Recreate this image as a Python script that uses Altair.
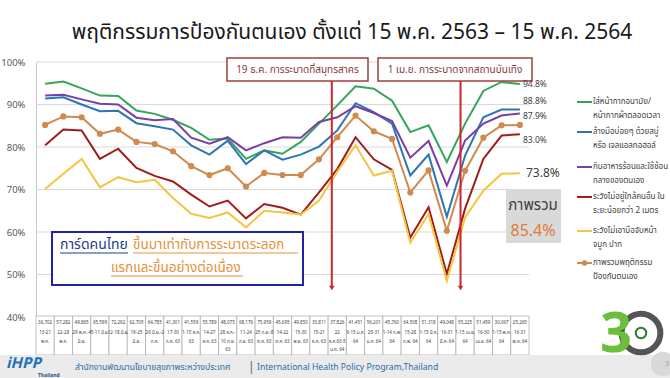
import altair as alt
import pandas as pd

# ---------------- data ----------------
idx = list(range(27))
mask = [94.9, 95.4, 93.8, 92.1, 92.0, 88.6, 87.8, 86.4, 84.5, 81.7, 82.0, 77.2, 79.2, 78.4, 81.2, 85.5, 89.8, 94.3, 93.7, 90.9, 83.5, 85.1, 76.5, 85.5, 93.2, 95.3, 94.8]
wash = [91.4, 91.7, 90.0, 88.4, 88.5, 85.6, 84.9, 84.1, 80.4, 78.2, 81.5, 76.0, 79.2, 77.0, 78.2, 80.1, 83.9, 90.3, 88.2, 85.5, 73.3, 78.2, 63.6, 78.0, 87.0, 88.8, 88.8]
spoon = [92.1, 92.3, 91.2, 90.2, 90.0, 86.9, 86.3, 86.6, 82.2, 80.8, 82.3, 79.2, 80.9, 82.3, 82.2, 85.9, 87.0, 89.6, 88.0, 86.1, 77.5, 81.4, 70.9, 81.5, 85.5, 87.4, 87.9]
distance = [80.4, 84.1, 83.9, 77.2, 79.6, 75.1, 73.2, 71.9, 68.8, 66.0, 67.4, 63.2, 66.6, 65.7, 64.1, 69.3, 74.8, 82.3, 77.1, 74.6, 58.7, 65.8, 50.1, 65.5, 77.2, 82.7, 83.0]
face = [70.1, 73.7, 77.2, 70.5, 72.9, 71.7, 72.3, 68.0, 64.3, 63.3, 64.6, 61.1, 65.0, 64.6, 64.1, 67.4, 74.2, 80.4, 73.3, 74.4, 57.5, 64.2, 48.5, 63.4, 69.7, 73.7, 73.8]
overall = [85.2, 87.2, 87.0, 83.1, 84.1, 81.2, 80.7, 79.0, 75.5, 73.4, 75.0, 70.7, 73.9, 73.4, 73.4, 77.1, 82.3, 87.4, 83.7, 81.9, 69.3, 74.5, 60.3, 74.4, 82.2, 85.1, 85.2]

series_names = ["mask", "wash", "spoon", "distance", "face", "overall"]
series_colors = ["#35a55a", "#2e75b6", "#7a3fa6", "#a01c1c", "#f4c542", "#d08a4e"]
legend_lines1 = ["ใส่หน้ากากอนามัย/", "ล้างมือบ่อยๆ ด้วยสบู่", "กินอาหารร้อนและใช้ช้อน",
                 "ระวังไม่อยู่ใกล้คนอื่น ใน", "ระวังไม่เอามือจับหน้า", "ภาพรวมพฤติกรรม"]
legend_lines2 = ["หน้ากากผ้าตลอดเวลา", "หรือ เจลแอลกอฮอล์", "กลางของตนเอง",
                 "ระยะน้อยกว่า 2 เมตร", "จมูก ปาก", "ป้องกันตนเอง"]
end_labels = ["94.8%", "88.8%", "87.9%", "83.0%", "73.8%"]

samples = ["36,702", "57,282", "49,865", "65,599", "72,292", "62,705", "64,785", "41,301", "41,559",
           "55,789", "48,075", "68,176", "75,959", "45,695", "49,850", "30,811", "37,826", "41,451",
           "56,201", "45,760", "64,508", "51,318", "49,048", "55,225", "51,459", "30,067", "25,265"]
date1 = ["13-21", "22-28", "29 พ.ค.-4", "5-11 มิ.ย.", "12-18 มิ.ย.", "19-25", "26 มิ.ย.-2", "17-30", "1-15 ส.ค.",
         "14-27", "28 ส.ค.-", "11-24", "25 ก.ย.-8", "14-22", "15-30", "15-21", "22", "6-15 ม.ค.",
         "25-31", "1-14 ก.พ.", "15-28", "1-15 มี.ค.", "16-31", "1-15 เม.ย.", "16-30", "1-15 พ.ค.", "16-31"]
date2 = ["พ.ค.", "พ.ค.", "มิ.ย.", "", "", "มิ.ย.", "ก.ค.", "ก.ค. 63", "63",
         "ส.ค. 63", "10 ก.ย.", "ก.ย. 63", "ต.ค. 63", "ต.ค. 63", "พ.ย. 63", "ธ.ค. 63", "ธ.ค.63-5", "64",
         "ม.ค. 64", "64", "ก.พ. 64", "64", "มี.ค. 64", "64", "เม.ย. 64", "64", "พ.ค. 64"]
date3 = ["", "", "", "", "", "", "", "", "", "", "63", "", "", "", "", "", "ม.ค. 64", "",
         "", "", "", "", "", "", "", "", ""]

event_pos = [15.7, 22.75]
event_text = ["19 ธ.ค. การระบาดที่สมุทรสาคร", "1 เม.ย. การระบาดจากสถานบันเทิง"]
y_ticks = [40, 50, 60, 70, 80, 90, 100]

title_text = "พฤติกรรมการป้องกันตนเอง ตั้งแต่ 15 พ.ค. 2563 – 15 พ.ค. 2564"

# ---------------- build tables ----------------
vals = [mask, wash, spoon, distance, face, overall]
rows = []
for name, v in zip(series_names, vals):
    for i, val in zip(idx, v):
        rows.append({"series": name, "idx": i, "value": val})
long_df = pd.DataFrame(rows)
table_df = pd.DataFrame({"idx": idx, "lo": [i - 0.5 for i in idx], "hi": [i + 0.5 for i in idx],
                         "n": samples, "d1": date1, "d2": date2, "d3": date3})
ev_df = pd.DataFrame({"pos": event_pos})

FONT = "Tahoma, 'Noto Sans Thai', 'Noto Sans', 'DejaVu Sans', sans-serif"
ONE = alt.InlineData(values=[{"k": 1}])

xs = alt.Scale(domain=[-0.5, 26.5], nice=False, zero=False)
ys = alt.Scale(domain=[40, 100], nice=False, zero=False)


def txt(text, x, y, size, color, align="left", weight="normal", style="normal"):
    return alt.Chart(ONE).mark_text(text=text, align=align, baseline="middle", fontSize=size,
                                    color=color, fontWeight=weight, fontStyle=style, font=FONT).encode(
        x=alt.value(x), y=alt.value(y))


def box(x1, x2, y1, y2, fill, stroke=None, sw=1.0):
    kw = {"fill": fill}
    if stroke:
        kw.update(stroke=stroke, strokeWidth=sw)
    return alt.Chart(ONE).mark_rect(**kw).encode(
        x=alt.value(x1), x2=alt.value(x2), y=alt.value(y1), y2=alt.value(y2))


def hrule(x1, x2, y, color, sw):
    return alt.Chart(ONE).mark_rule(color=color, strokeWidth=sw).encode(
        x=alt.value(x1), x2=alt.value(x2), y=alt.value(y))


color_scale = alt.Scale(domain=series_names, range=series_colors)

grid = alt.Chart(pd.DataFrame({"v": y_ticks})).mark_rule(color="#d9d9d9", strokeWidth=1).encode(
    y=alt.Y("v:Q", scale=ys, axis=alt.Axis(values=y_ticks, labelExpr="datum.value + '%'", grid=False,
                                           ticks=False, domain=True, domainColor="#c8c8c8",
                                           labelColor="#595959", labelFontSize=9.5, labelPadding=11,
                                           labelFont=FONT, title=None)),
    x=alt.value(0), x2=alt.value(493))

lines = alt.Chart(long_df).mark_line(strokeWidth=2).encode(
    x=alt.X("idx:Q", scale=xs, axis=None),
    y=alt.Y("value:Q", scale=ys),
    color=alt.Color("series:N", scale=color_scale, legend=None),
    order="idx:Q")

dots = alt.Chart(long_df[long_df.series == "overall"]).mark_point(filled=True, size=38, opacity=1,
                                                                  color="#d08a4e").encode(
    x=alt.X("idx:Q", scale=xs), y=alt.Y("value:Q", scale=ys))

ev_rules = alt.Chart(ev_df).mark_rule(color="#c8282b", strokeWidth=2).encode(
    x=alt.X("pos:Q", scale=xs), y=alt.value(19), y2=alt.value(224))
ev_heads = alt.Chart(ev_df).mark_point(shape="triangle-down", filled=True, size=30, opacity=1,
                                       color="#c8282b").encode(
    x=alt.X("pos:Q", scale=xs), y=alt.value(226))

layers = [grid, lines, dots, ev_rules, ev_heads]

# annotation boxes
layers += [box(191, 332, -4, 19, "white", "#a0403f", 1.5), box(342, 496, -4, 19, "white", "#a0403f", 1.5),
           txt(event_text[0], 261.5, 7.5, 10, "#8b3a3a", "center"),
           txt(event_text[1], 419, 7.5, 10, "#8b3a3a", "center")]

# title
layers.append(txt(title_text, 316, -29, 21, "#1a1a1a", "center"))

# end labels
end_pos = [(487, 22, 8.5), (487, 39, 8.5), (487, 54, 8.5), (487, 78, 8.5), (490, 111, 12)]
for lab, (x, y, s) in zip(end_labels, end_pos):
    layers.append(txt(lab, x, y, s, "#404040"))

# overall box
layers += [box(470, 525, 127, 181, "#d9d9d9"),
           txt("ภาพรวม", 497, 143, 15, "#404040", "center"),
           txt("85.4%", 497, 169, 16, "#e07b39", "center")]

# legend
leg_y = [40, 70, 105, 135, 169, 201]
for name, col, l1, l2, y in zip(series_names, series_colors, legend_lines1, legend_lines2, leg_y):
    layers.append(hrule(541, 556, y, col, 2))
    layers.append(txt(l1, 557, y, 8, "#404040"))
    layers.append(txt(l2, 557, y + 14, 8, "#404040"))
layers.append(alt.Chart(ONE).mark_point(filled=True, size=30, opacity=1, color=series_colors[-1]).encode(
    x=alt.value(548.5), y=alt.value(201)))

# blue callout
layers += [box(16, 267, 170, 223, "white", "#2323a0", 2),
           txt("การ์ดคนไทย", 24, 183, 14, "#1f3a93"),
           txt("ขึ้นมาเท่ากับการระบาดระลอก", 97, 183, 13.5, "#e69138"),
           txt("แรกและขึ้นอย่างต่อเนื่อง", 75, 206, 13.5, "#e69138"),
           hrule(24, 92, 191, "#1f3a93", 1), hrule(97, 262, 191, "#e69138", 1),
           hrule(75, 207, 214, "#e69138", 1)]

# table
tbase = alt.Chart(table_df)
layers.append(tbase.mark_rect(fill="white", stroke="#a6a6a6", strokeWidth=0.7).encode(
    x=alt.X("lo:Q", scale=xs), x2="hi:Q", y=alt.value(254), y2=alt.value(293)))
for field, yy in [("n", 261), ("d1", 271), ("d2", 280), ("d3", 288)]:
    layers.append(tbase.mark_text(fontSize=4.5, color="#404040", font=FONT, baseline="middle").encode(
        x=alt.X("idx:Q", scale=xs), y=alt.value(yy), text=f"{field}:N"))

# footer
layers += [box(-36, 634, 293, 316, "#ebebeb"),
           txt("iHPP", -30, 301, 15, "#1f73b7", weight="bold", style="italic"),
           txt("Thailand", 2, 313, 5, "#1f4f7f", weight="bold"),
           txt("สำนักงานพัฒนานโยบายสุขภาพระหว่างประเทศ", 39, 305, 8.6, "#2e6ca4"),
           txt("|", 212, 305, 12, "#2e6ca4"),
           txt("International Health Policy Program,Thailand", 221, 305, 8.6, "#2e6ca4"),
           alt.Chart(ONE).mark_point(filled=True, size=600, opacity=1, color="#d9d9d9").encode(
               x=alt.value(627), y=alt.value(302)),
           txt("3", 631, 302, 7, "#9a9a9a", "center")]

# 30 logo
layers += [alt.Chart(ONE).mark_point(filled=False, size=1500, opacity=1, color="#555555", strokeWidth=6).encode(
               x=alt.value(605), y=alt.value(271)),
           txt("3", 580, 273, 56, "#6cbf3c", "center", weight="bold"),
           alt.Chart(ONE).mark_point(filled=False, size=110, opacity=1, color="#2d7a2d", strokeWidth=2).encode(
               x=alt.value(605), y=alt.value(271))]

chart = alt.layer(*layers).properties(
    width=493, height=255,
    autosize=alt.AutoSizeParams(type="none"),
    padding={"left": 36, "top": 62, "right": 141, "bottom": 62},
    background="white",
).configure_view(stroke=None)

chart.save("out.html", embed_options={"renderer": "svg", "actions": False})
